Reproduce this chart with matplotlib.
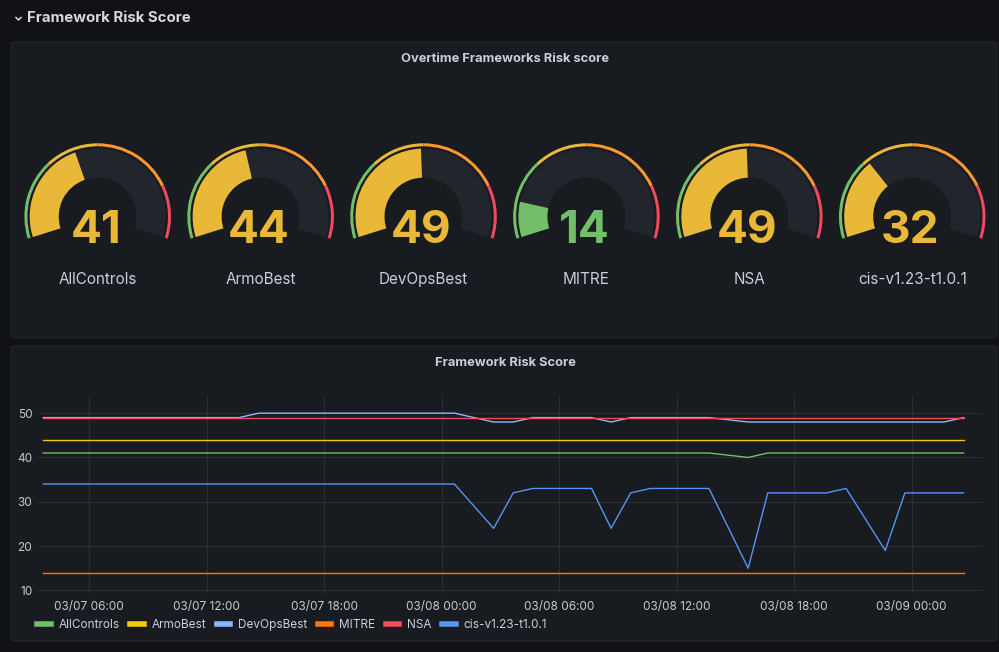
import numpy as np
import pandas as pd
import matplotlib
matplotlib.use("Agg")
import matplotlib.pyplot as plt
import matplotlib.dates as mdates
from matplotlib.patches import Wedge, FancyBboxPatch

plt.rcParams['font.family'] = ['Inter', 'DejaVu Sans']

# ---- data ----
frameworks = ['AllControls', 'ArmoBest', 'DevOpsBest', 'MITRE', 'NSA', 'cis-v1.23-t1.0.1']
gauge_values = [41, 44, 49, 14, 49, 32]

times = pd.date_range('2023-03-07 03:39', periods=48, freq='h')
N = None
all_controls = [41, 41, 41, 41, 41, 41, 41, 41, 41, 41, 41, 41, 41, 41, 41, 41,
                41, 41, 41, 41, 41, 41, N, 41, 41, 41, 41, 41, 41, 41, 41, 41,
                41, 41, 41, N, 40, 41, 41, 41, 41, 41, 41, 41, 41, 41, 41, 41]
armo_best = [44, 44, 44, 44, 44, 44, 44, 44, 44, 44, 44, 44, 44, 44, 44, 44,
             44, 44, 44, 44, 44, 44, N, 44, 44, 44, 44, 44, 44, 44, 44, 44,
             44, 44, 44, N, 44, 44, 44, 44, 44, 44, 44, 44, 44, 44, 44, 44]
devops_best = [49, 49, 49, 49, 49, 49, 49, 49, 49, 49, 49, 50, 50, 50, 50, 50,
               50, 50, 50, 50, 50, 50, N, 48, 48, 49, 49, 49, 49, 48, 49, 49,
               49, 49, 49, N, 48, 48, 48, 48, 48, 48, 48, 48, 48, 48, 48, 49]
mitre = [14, 14, 14, 14, 14, 14, 14, 14, 14, 14, 14, 14, 14, 14, 14, 14,
         14, 14, 14, 14, 14, 14, N, 14, 14, 14, 14, 14, 14, 14, 14, 14,
         14, 14, 14, N, 14, 14, 14, 14, 14, 14, 14, 14, 14, 14, 14, 14]
nsa = [49, 49, 49, 49, 49, 49, 49, 49, 49, 49, 49, 49, 49, 49, 49, 49,
       49, 49, 49, 49, 49, 49, N, 49, 49, 49, 49, 49, 49, 49, 49, 49,
       49, 49, 49, N, 49, 49, 49, 49, 49, 49, 49, 49, 49, 49, 49, 49]
cis = [34, 34, 34, 34, 34, 34, 34, 34, 34, 34, 34, 34, 34, 34, 34, 34,
       34, 34, 34, 34, 34, 34, N, 24, 32, 33, 33, 33, 33, 24, 32, 33,
       33, 33, 33, N, 15, 32, 32, 32, 32, 33, 26, 19, 32, 32, 32, 32]
series = [all_controls, armo_best, devops_best, mitre, nsa, cis]
series_colors = ['#73BF69', '#F2CC0C', '#8AB8FF', '#FF780A', '#F2495C', '#5794F2']

thresholds = [0, 30, 50, 80, 100]
threshold_colors = ['#73BF69', '#EAB839', '#FF9830', '#F2495C']

# ---- figure ----
W, H = 999, 652
BG = '#111217'
PANEL = '#181b1f'
TEXT = '#ccccdc'

fig = plt.figure(figsize=(W / 100, H / 100), dpi=100, facecolor=BG)
bg = fig.add_axes([0, 0, 1, 1])
bg.set_xlim(0, W)
bg.set_ylim(0, H)
bg.axis('off')

def Y(y):
    return H - y

for top, bottom in [(42, 338), (346, 641)]:
    bg.add_patch(FancyBboxPatch((11, Y(bottom)), 986, bottom - top,
                                boxstyle='round,pad=0,rounding_size=3',
                                fc=PANEL, ec='#24272e', lw=0.8))

# row header
bg.plot([16, 18.5, 21], [Y(17.5), Y(20), Y(17.5)], color='#d8d9da', lw=1.1)
bg.text(27, Y(18), 'Framework Risk Score', color='#d8d9da', fontsize=10.8,
        fontweight='bold', va='center', ha='left')

bg.text(505, Y(59), 'Overtime Frameworks Risk score', color=TEXT, fontsize=9.3,
        fontweight='bold', ha='center', va='center')
bg.text(505, Y(363), 'Framework Risk Score', color=TEXT, fontsize=9.3,
        fontweight='bold', ha='center', va='center')

# gauges
start_ang, sweep = 197.5, 215.0
cy = Y(216.6)
for i, (name, val) in enumerate(zip(frameworks, gauge_values)):
    cx = 97.7 + 162.9 * i
    for lo, hi, col in zip(thresholds[:-1], thresholds[1:], threshold_colors):
        a1 = start_ang - sweep * hi / 100
        a2 = start_ang - sweep * lo / 100
        bg.add_patch(Wedge((cx, cy), 73.3, a1, a2, width=3.0, fc=col, ec='none'))
    bg.add_patch(Wedge((cx, cy), 68, start_ang - sweep, start_ang, width=29,
                       fc='#22252b', ec='none'))
    col = threshold_colors[np.searchsorted(thresholds, val, side='right') - 1]
    bg.add_patch(Wedge((cx, cy), 68, start_ang - sweep * val / 100, start_ang,
                       width=29, fc=col, ec='none'))
    bg.text(cx - 2, Y(243), str(val), color=col, fontsize=33, fontweight='bold',
            ha='center', va='baseline')
    bg.text(cx, Y(284), name, color=TEXT, fontsize=11, ha='center', va='baseline')

# time series
ax = fig.add_axes([39.3 / W, (H - 593) / H, (982 - 39.3) / W, (593 - 395) / H])
ax.set_facecolor('none')
for name, vals, col in zip(frameworks, series, series_colors):
    v = np.array([np.nan if x is None else x for x in vals], dtype=float)
    m = ~np.isnan(v)
    ax.plot(times[m], v[m], color=col, lw=1.0, label=name)

ax.set_xlim(times[0] - pd.Timedelta(hours=0.2), times[0] + pd.Timedelta(hours=47.94))
ax.set_ylim(9.4, 54.1)
ax.set_yticks([10, 20, 30, 40, 50])
ax.xaxis.set_major_locator(mdates.HourLocator(byhour=[0, 6, 12, 18]))
ax.xaxis.set_major_formatter(mdates.DateFormatter('%m/%d %H:%M'))
ax.grid(True, color='#2c2e33', lw=0.8)
ax.set_axisbelow(True)
for s in ax.spines.values():
    s.set_visible(False)
ax.tick_params(length=0, colors='#c7c9d1', labelsize=8.5)
ax.tick_params(axis='y', pad=5)
ax.tick_params(axis='x', pad=5.5)

leg = ax.legend(loc='center left', bbox_to_anchor=(37 / W, (H - 625) / H),
                bbox_transform=fig.transFigure, ncol=6, frameon=False,
                fontsize=8.5, handlelength=1.15, handletextpad=0.65,
                columnspacing=0.9, borderaxespad=0, borderpad=0)
for line in leg.get_lines():
    line.set_linewidth(4)
for t in leg.get_texts():
    t.set_color(TEXT)

fig.savefig('out.png', dpi=100, facecolor=BG)
